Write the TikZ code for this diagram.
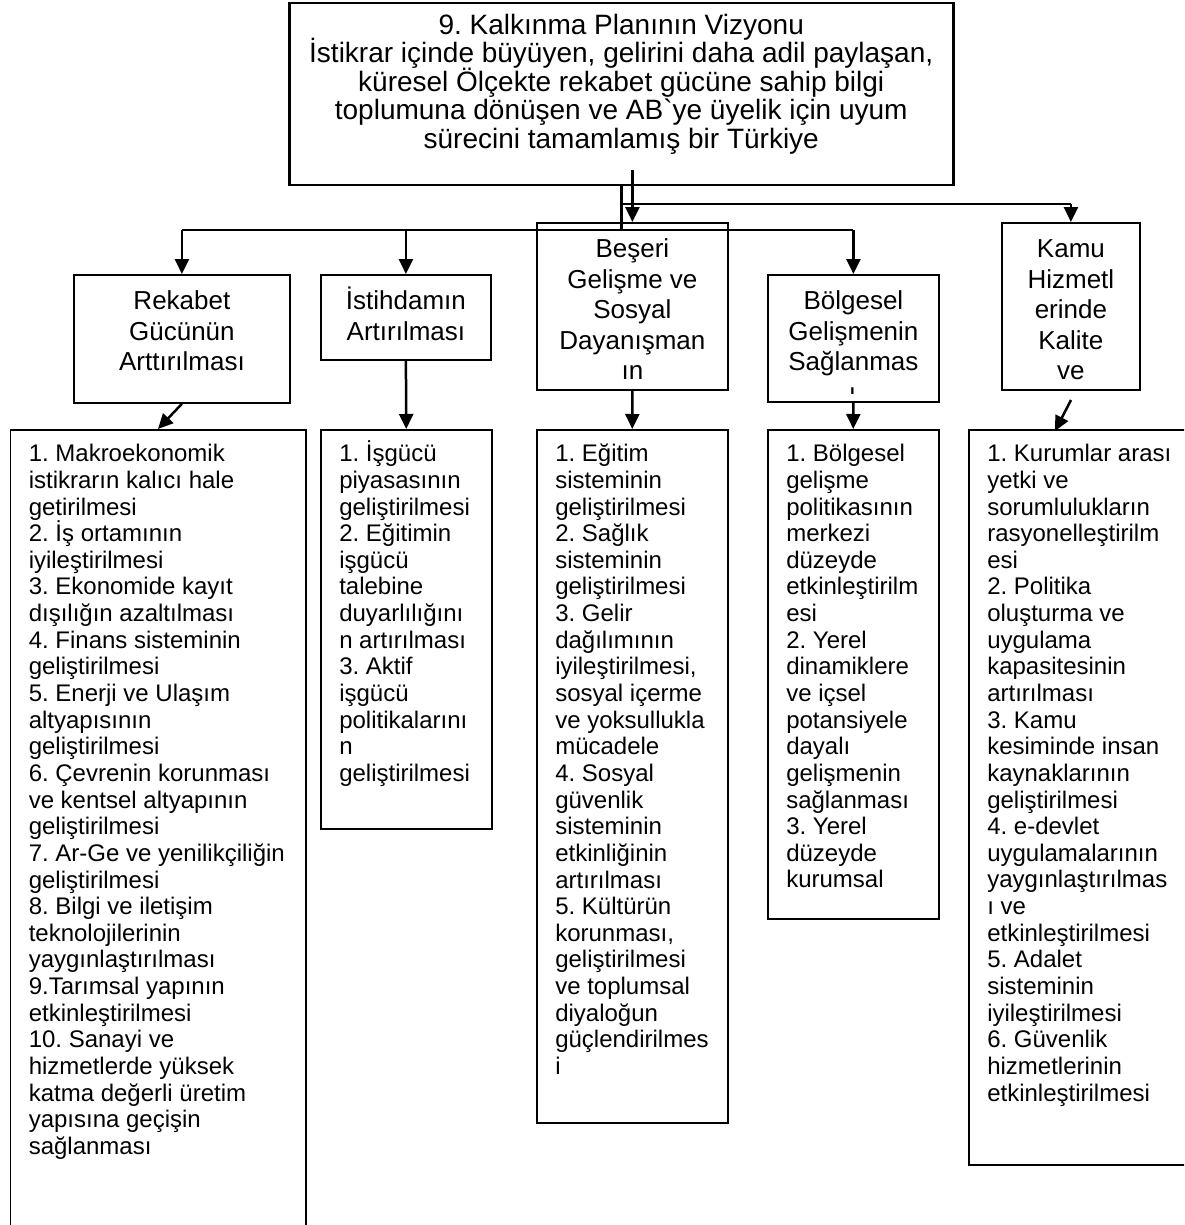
\documentclass[tikz,border=0pt]{standalone}
\usepackage{fontspec}
\setmainfont{Liberation Sans}[Ligatures=TeXOff]
\usetikzlibrary{arrows.meta,calc}
\newcommand{\tightlines}{\frenchspacing\lineskiplimit=-100pt\lineskip=0pt}
\newcommand{\hdrtext}[3]{\parbox[c][#2pt][t]{#1pt}{\tightlines\fontsize{26}{30.5}\selectfont\centering\rule{0pt}{35pt}#3}}
\newcommand{\lowtext}[3]{\parbox[c][#2pt][t]{#1pt}{\tightlines\fontsize{24}{26.64}\selectfont\raggedright\rule{0pt}{32pt}#3}}
\begin{document}
\begin{tikzpicture}[x=1pt,y=-1pt,
  hdr/.style={draw,line width=1.8pt,inner sep=0pt,anchor=north west},
  lowbox/.style={draw,line width=1.5pt,inner xsep=18.5pt,inner ysep=0pt,anchor=north west},
  topbox/.style={draw,line width=2.5pt,inner sep=0pt,anchor=north west},
  conn/.style={line width=2.5pt},
  arr/.style={line width=2.5pt,-{Triangle[length=15pt,width=14pt]}}]
\useasboundingbox (0,0) rectangle (1184,1225);
\fill[white] (0,0) rectangle (1184,1225);
\clip (0,0) rectangle (1184,1225);

% top box
\node[topbox] (T) at (288,2) {\parbox[c][182pt][t]{664pt}{\tightlines\fontsize{28}{28.5}\selectfont\centering\rule{0pt}{31pt}9. Kalkınma Planının Vizyonu\\
İstikrar içinde büyüyen, gelirini daha adil paylaşan,\\
küresel Ölçekte rekabet gücüne sahip bilgi\\
toplumuna dönüşen ve AB`ye üyelik için uyum\\
sürecini tamamlamış bir Türkiye}};

% header boxes
\node[hdr] (R) at (73,274) {\hdrtext{216}{128}{Rekabet\\Gücünün\\Arttırılması}};
\node[hdr] (I) at (320,274) {\hdrtext{170}{85}{İstihdamın\\Artırılması}};
\node[hdr] (Bs) at (536,222) {\hdrtext{191}{167}{Beşeri\\Gelişme ve\\Sosyal\\Dayanışman\\ın}};
\node[hdr] (B) at (767,274) {\hdrtext{171}{127}{Bölgesel\\Gelişmenin\\Sağlanmas}};
\node[hdr] (K) at (1001,222) {\hdrtext{138}{167}{Kamu\\Hizmetl\\erinde\\Kalite\\ve}};
\begin{scope}
\clip (840,380) rectangle (866,393);
\node[anchor=base,inner sep=0pt,font=\fontsize{26}{30.5}\selectfont] (Btail) at (852.5,401) {ı};
\end{scope}

% lower boxes
\node[lowbox] (L1) at (9.5,429) {\lowtext{258.5}{806}{1. Makroekonomik\\
istikrarın kalıcı hale\\
getirilmesi\\
2. İş ortamının\\
iyileştirilmesi\\
3. Ekonomide kayıt\\
dışılığın azaltılması\\
4. Finans sisteminin\\
geliştirilmesi\\
5. Enerji ve Ulaşım\\
altyapısının\\
geliştirilmesi\\
6. Çevrenin korunması\\
ve kentsel altyapının\\
geliştirilmesi\\
7. Ar-Ge ve yenilikçiliğin\\
geliştirilmesi\\
8. Bilgi ve iletişim\\
teknolojilerinin\\
yaygınlaştırılması\\
9.Tarımsal yapının\\
etkinleştirilmesi\\
10. Sanayi ve\\
hizmetlerde yüksek\\
katma değerli üretim\\
yapısına geçişin\\
sağlanması}};

\node[lowbox] (L2) at (320,429) {\lowtext{134}{399}{1. İşgücü\\
piyasasının\\
geliştirilmesi\\
2. Eğitimin\\
işgücü\\
talebine\\
duyarlılığını\\
n artırılması\\
3. Aktif\\
işgücü\\
politikalarını\\
n\\
geliştirilmesi}};

\node[lowbox] (L3) at (536,429) {\lowtext{154}{693}{1. Eğitim\\
sisteminin\\
geliştirilmesi\\
2. Sağlık\\
sisteminin\\
geliştirilmesi\\
3. Gelir\\
dağılımının\\
iyileştirilmesi,\\
sosyal içerme\\
ve yoksullukla\\
mücadele\\
4. Sosyal\\
güvenlik\\
sisteminin\\
etkinliğinin\\
artırılması\\
5. Kültürün\\
korunması,\\
geliştirilmesi\\
ve toplumsal\\
diyaloğun\\
güçlendirilmes\\
i}};

\node[lowbox] (L4) at (767,429) {\lowtext{134}{489}{1. Bölgesel\\
gelişme\\
politikasının\\
merkezi\\
düzeyde\\
etkinleştirilm\\
esi\\
2. Yerel\\
dinamiklere\\
ve içsel\\
potansiyele\\
dayalı\\
gelişmenin\\
sağlanması\\
3. Yerel\\
düzeyde\\
kurumsal}};

\node[lowbox] (L5) at (968,429) {\lowtext{200}{735}{1. Kurumlar arası\\
yetki ve\\
sorumlulukların\\
rasyonelleştirilm\\
esi\\
2. Politika\\
oluşturma ve\\
uygulama\\
kapasitesinin\\
artırılması\\
3. Kamu\\
kesiminde insan\\
kaynaklarının\\
geliştirilmesi\\
4. e-devlet\\
uygulamalarının\\
yaygınlaştırılmas\\
ı ve\\
etkinleştirilmesi\\
5. Adalet\\
sisteminin\\
iyileştirilmesi\\
6. Güvenlik\\
hizmetlerinin\\
etkinleştirilmesi}};

% connectors from the top box
\draw[conn] (T.south) -- (T.south |- 0,230) coordinate (jL);
\draw[conn] (R.north |- jL) -- (B.north |- jL);
\draw[arr] (R.north |- jL) -- (R.north);
\draw[arr] (I.north |- jL) -- (I.north);
\draw[arr] (B.north |- jL) -- (B.north);
\draw[conn] (T.south |- 0,204) -- (K.north |- 0,204) coordinate (jK);
\draw[arr] (jK) -- (K.north);
\draw[arr] (Bs.north |- 0,170) -- (Bs.north);

% connectors to the lower boxes
\coordinate (l1in) at (158,429);
\draw[arr] (R.south) -- (l1in);
\draw[arr] (I.south) -- (L2.north);
\draw[arr] (Bs.south) -- (L3.north);
\draw[arr] (B.south) -- (L4.north);
\coordinate (k0) at (1071,400);
\coordinate (l5in) at (1055,431);
\draw[arr] (k0) -- (l5in);
\end{tikzpicture}
\end{document}
